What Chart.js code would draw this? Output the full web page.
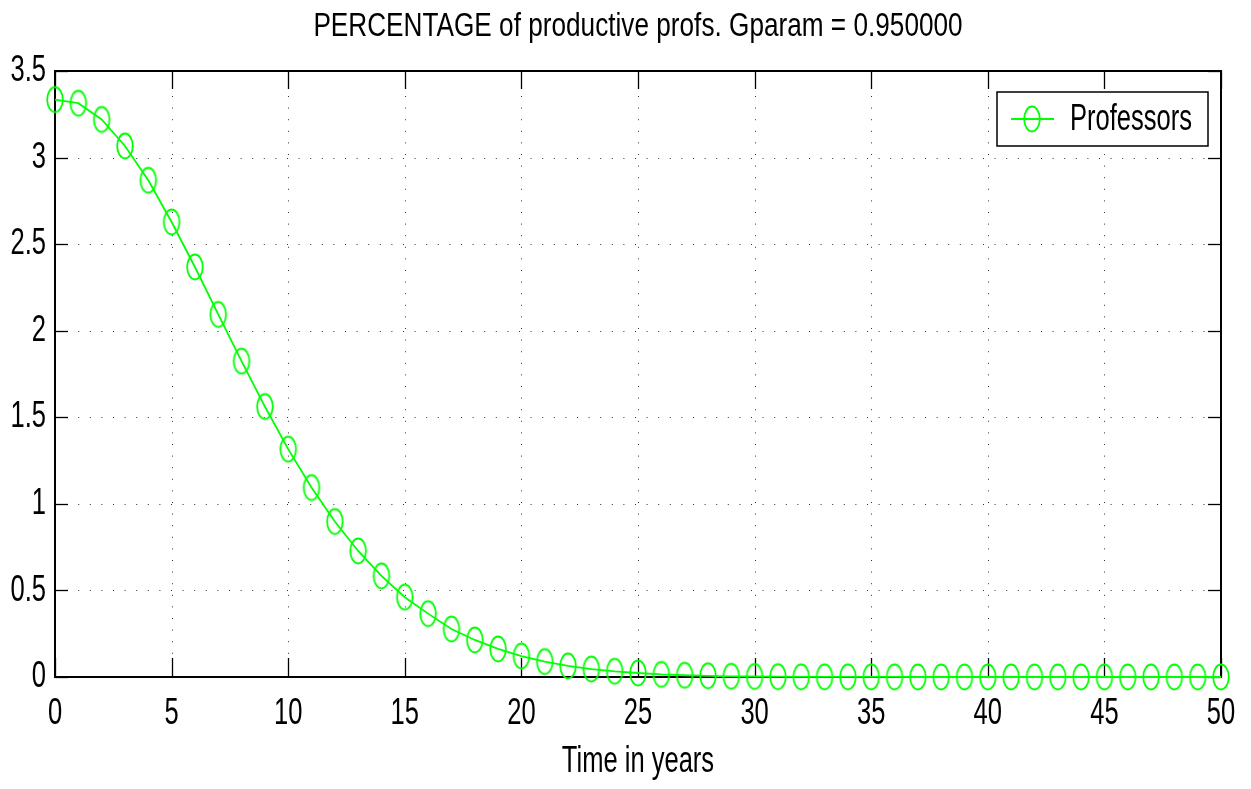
<!DOCTYPE html>
<html>
<head>
<meta charset="utf-8">
<script src="https://cdn.jsdelivr.net/npm/chart.js@4.4.1/dist/chart.umd.min.js"></script>
<style>
html,body{margin:0;padding:0;background:#fff;}
#wrap{width:1251px;height:789px;position:relative;}
</style>
</head>
<body>
<div id="wrap"><canvas id="c" width="1251" height="789"></canvas></div>
<script>
const years = [0,1,2,3,4,5,6,7,8,9,10,11,12,13,14,15,16,17,18,19,20,21,22,23,24,25,26,27,28,29,30,31,32,33,34,35,36,37,38,39,40,41,42,43,44,45,46,47,48,49,50];
const professors = [3.335,3.314,3.220,3.067,2.869,2.628,2.368,2.094,1.824,1.562,1.316,1.094,0.898,0.728,0.584,0.461,0.366,0.277,0.214,0.162,0.121,0.089,0.064,0.046,0.033,0.023,0.015,0.010,0.007,0.004,0.003,0.002,0.001,0.001,0.001,0.0005,0.0005,0,0,0,0,0,0,0,0,0,0,0,0,0,0];
const xTicks = [0,5,10,15,20,25,30,35,40,45,50];
const yTicks = [0,0.5,1,1.5,2,2.5,3,3.5];
const titleText = 'PERCENTAGE of productive profs. Gparam = 0.950000';
const xLabel = 'Time in years';
const seriesLabel = 'Professors';

const FONT = '"Liberation Sans", Arial, Helvetica, sans-serif';
const GREEN = '#00ff00';
const TITLE_SIZE = 34;
const BIG_SIZE = 37;

// The original figure uses horizontally condensed type; condense canvas text.
const canvas = document.getElementById('c');
const cctx = canvas.getContext('2d');
function kFor(font){
  const m = /(\d+(?:\.\d+)?)px/.exec(font || '');
  const size = m ? parseFloat(m[1]) : 12;
  return size <= TITLE_SIZE ? 0.77 : 0.69;
}
const origFill = cctx.fillText.bind(cctx);
const origMeasure = cctx.measureText.bind(cctx);
cctx.fillText = function(text, x, y, maxWidth){
  const k = kFor(cctx.font);
  cctx.save();
  cctx.translate(x, y);
  cctx.scale(k, 1);
  origFill(text, 0, 0);
  cctx.restore();
};
cctx.measureText = function(text){
  const k = kFor(cctx.font);
  const m = origMeasure(text);
  return {
    width: m.width * k,
    actualBoundingBoxLeft: m.actualBoundingBoxLeft * k,
    actualBoundingBoxRight: m.actualBoundingBoxRight * k,
    actualBoundingBoxAscent: m.actualBoundingBoxAscent,
    actualBoundingBoxDescent: m.actualBoundingBoxDescent,
    fontBoundingBoxAscent: m.fontBoundingBoxAscent,
    fontBoundingBoxDescent: m.fontBoundingBoxDescent
  };
};

// elliptical marker (the original is vertically stretched)
function makeMarker(){
  const m = document.createElement('canvas');
  m.width = 20; m.height = 30;
  const g = m.getContext('2d');
  g.strokeStyle = GREEN; g.lineWidth = 1.8;
  g.beginPath(); g.ellipse(10, 15, 7.8, 12.5, 0, 0, Math.PI*2); g.stroke();
  return m;
}
const marker = makeMarker();

const framePlugin = {
  id: 'frame',
  beforeDatasetsDraw(chart){
    const ctx = chart.ctx, a = chart.chartArea;
    const xs = chart.scales.x, ys = chart.scales.y;
    ctx.save();
    ctx.strokeStyle = '#333'; ctx.lineWidth = 1; ctx.setLineDash([1, 10.6]);
    xTicks.forEach(v => {
      if (v === xs.min || v === xs.max) return;
      const px = Math.round(xs.getPixelForValue(v)) + 0.5;
      ctx.beginPath(); ctx.moveTo(px, a.bottom); ctx.lineTo(px, a.top); ctx.stroke();
    });
    yTicks.forEach(v => {
      if (v === ys.min || v === ys.max) return;
      const py = Math.round(ys.getPixelForValue(v)) + 0.5;
      ctx.beginPath(); ctx.moveTo(a.left, py); ctx.lineTo(a.right, py); ctx.stroke();
    });
    ctx.setLineDash([]);
    ctx.strokeStyle = '#000'; ctx.lineWidth = 1.3;
    xTicks.forEach(v => {
      const px = Math.round(xs.getPixelForValue(v)) + 0.5;
      ctx.beginPath(); ctx.moveTo(px, a.bottom); ctx.lineTo(px, a.bottom - 19); ctx.stroke();
      ctx.beginPath(); ctx.moveTo(px, a.top); ctx.lineTo(px, a.top + 18); ctx.stroke();
    });
    yTicks.forEach(v => {
      const py = Math.round(ys.getPixelForValue(v)) + 0.5;
      ctx.beginPath(); ctx.moveTo(a.left, py); ctx.lineTo(a.left + 13, py); ctx.stroke();
      ctx.beginPath(); ctx.moveTo(a.right, py); ctx.lineTo(a.right - 13, py); ctx.stroke();
    });
    ctx.lineWidth = 2;
    ctx.strokeRect(a.left, a.top, a.right - a.left, a.bottom - a.top);
    ctx.restore();
  }
};

const legendPlugin = {
  id: 'boxLegend',
  afterDraw(chart){
    const ctx = chart.ctx, a = chart.chartArea;
    const w = 211, h = 54;
    const x = a.right - 13 - w, y = a.top + 21;
    const cy = y + h / 2;
    ctx.save();
    ctx.fillStyle = '#fff'; ctx.fillRect(x, y, w, h);
    ctx.strokeStyle = '#000'; ctx.lineWidth = 1.5; ctx.strokeRect(x, y, w, h);
    ctx.strokeStyle = GREEN; ctx.lineWidth = 1.8;
    ctx.beginPath(); ctx.moveTo(x + 14, cy); ctx.lineTo(x + 57, cy); ctx.stroke();
    ctx.drawImage(marker, x + 35 - marker.width / 2, cy - marker.height / 2);
    ctx.fillStyle = '#000';
    ctx.font = BIG_SIZE + 'px ' + FONT;
    ctx.textBaseline = 'middle'; ctx.textAlign = 'left';
    ctx.fillText(chart.data.datasets[0].label, x + 73, cy + 1);
    ctx.restore();
  }
};

new Chart(canvas, {
  type: 'line',
  data: {
    datasets: [{
      label: seriesLabel,
      data: years.map((x, i) => ({x: x, y: professors[i]})),
      borderColor: GREEN,
      backgroundColor: GREEN,
      borderWidth: 1.8,
      pointStyle: marker,
      pointRadius: 8,
      tension: 0,
      clip: false
    }]
  },
  options: {
    responsive: false,
    devicePixelRatio: 1,
    animation: false,
    layout: { padding: { top: 0, right: 30, left: 0, bottom: 0 } },
    plugins: {
      legend: { display: false },
      tooltip: { enabled: false },
      title: {
        display: true,
        fullSize: false,
        text: titleText,
        color: '#000',
        font: { family: FONT, size: TITLE_SIZE, weight: 'normal' },
        padding: { top: 6, bottom: 24.2 }
      }
    },
    scales: {
      x: {
        type: 'linear', min: 0, max: 50,
        afterBuildTicks: s => { s.ticks = xTicks.map(v => ({value: v})); },
        afterFit: s => { s.height = 112; s.paddingLeft = 0; s.paddingRight = 0; },
        grid: { display: false, drawTicks: false },
        border: { display: false },
        ticks: {
          color: '#000', padding: 15, maxRotation: 0, autoSkip: false,
          font: { family: FONT, size: BIG_SIZE },
          callback: v => String(v)
        },
        title: {
          display: true, text: xLabel, color: '#000',
          font: { family: FONT, size: BIG_SIZE },
          padding: { top: 0, bottom: 5 }
        }
      },
      y: {
        type: 'linear', min: 0, max: 3.5,
        afterBuildTicks: s => { s.ticks = yTicks.map(v => ({value: v})); },
        afterFit: s => { s.width = 55; s.paddingTop = 0; s.paddingBottom = 0; },
        grid: { display: false, drawTicks: false },
        border: { display: false },
        ticks: {
          color: '#000', padding: 9, autoSkip: false,
          font: { family: FONT, size: BIG_SIZE },
          callback: v => String(v)
        }
      }
    }
  },
  plugins: [framePlugin, legendPlugin]
});
</script>
</body>
</html>
